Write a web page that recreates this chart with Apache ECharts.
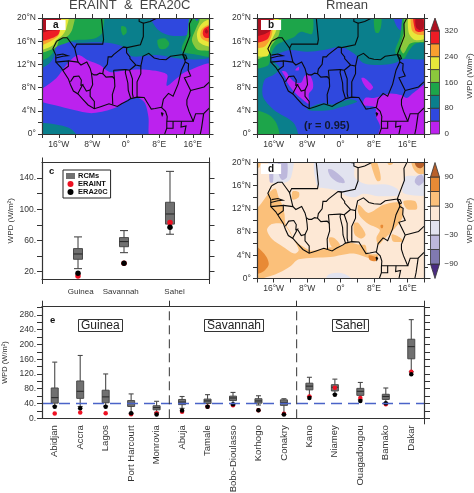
<!DOCTYPE html>
<html><head><meta charset="utf-8">
<style>html,body{margin:0;padding:0;background:#fff}#c{width:474px;height:493px}</style>
<script src="https://cdn.jsdelivr.net/npm/echarts@6/dist/echarts.min.js"></script>
</head><body><div id="c"></div>
<script>
// ---------- tick labels and categories ----------
var lonTicks=[-20,-16,-12,-8,-4,0,4,8,12,16,20];
var lonLabels=[-16,-8,0,8,16];
var latTicks=[0,2,4,6,8,10,12,14,16,18,20];
var latLabels=[0,4,8,12,16,20];
var cCategories=['Guinea','Savannah','Sahel'];
var cLabelAt=[1.06,1.93,3.1];
var cTicks=[20,40,60,80,100,120,140];
var cTickLabels=[20,60,100,140];
var eCategories=['Abidjan','Accra','Lagos','Port Harcourt','Monrovia','Abuja','Tamale','Bobo-Dioulasso','Korhogo','Conakry','Kano','Niamey','Ouagadougou','Bamako','Dakar'];
var eTicks=[0,20,40,60,80,100,120,140,160,180,200,220,240,260,280,300];
var eTickLabels=[0,40,80,120,160,200,240,280];
var eDividers=[4.5,9.5];
var eReference=40;

// ---------- panel c values ----------
var cHigh=[64.6,72.7,148.6];
var cQ3=[49.6,63.7,109];
var cMedian=[42.7,58.6,94];
var cQ1=[35.9,52,81];
var cLow=[23.9,44.4,68];
var cEraint=[14.4,30.7,83];
var cEra20c=[17.9,30.7,77];

// ---------- panel e values ----------
var eHigh=[152,170,120,66,46,59,64,70,61,53,111,106,97,82,267];
var eQ3=[82,101,76,48,34,51,52,60,53,50,95,91,81,65,214];
var eMedian=[56,73,58,40,29,44,47,55,47,42,87,84,73,59,194];
var eQ1=[41,54,42,32,23,37,40,48,41,35,77,74,62,51,161];
var eLow=[33,32,33,14,16,27,33,40,36,10,59,65,50,42,126];
var eEraint=[13,16,14,11,14,18,31,35,22,12,59,83,55,38,126];
var eEra20c=[31,27,31,14,10,21,31,38,22,10,55,64,47,41,119];

// ---------- colour scales ----------
var wpdLevels=[0,40,80,120,160,200,240,280,320,360];
var wpdColors=['#BC22EE','#2F48DE','#0A7F8C','#1DA54A','#8BC83C','#E8E83A','#F9A02F','#EE1C25','#AE1020'];
var diffLevels=[-120,-90,-60,-30,0,30,60,90,120];
var diffColors=['#4B2D82','#8079B0','#BDB8DC','#E2E3EF','#FDE8D5','#FBC07A','#E88A35','#B8602A'];

// ---------- country borders, [lon,lat] ----------
var borders=[
[[-16.5,16],[-17.4,14.7],[-16.7,13.6],[-16.7,12.4],[-15.5,11.5],[-14.7,10.6],[-13.7,9.5],[-13.2,8.5],[-12.5,7.4],[-11.4,6.9],[-10.3,6],[-9,5],[-7.5,4.35],[-6,4.7],[-4,5.2],[-2,4.75],[-1,5.2],[0.5,5.75],[1.2,6.1],[2.7,6.35],[4.4,6.3],[5.5,5],[6.1,4.3],[7,4.4],[8.5,4.6],[9.5,3.9],[9.9,3],[9.8,2],[9.8,1],[9.3,0]],
[[-16.5,16],[-15,16.6],[-14,16.6],[-13,15.6],[-12.2,14.8],[-11.7,15.5],[-9.3,15.5],[-5.5,15.5],[-5.3,16.3],[-5.8,20]],
[[-12.2,14.8],[-11.4,12.4]],
[[-16.7,13.1],[-15,13.4],[-13.8,13.5],[-15,13.8],[-16.5,13.6]],
[[-16.7,12.4],[-13.7,12.6],[-13.7,11.7],[-15,11]],
[[-13.7,12.6],[-11.4,12.4],[-10.7,11.9],[-9.3,12.4],[-8.5,11.3],[-8.2,10.5],[-8,9.4],[-7.9,8.5],[-8.5,7.6]],
[[-13.2,9],[-12.4,9.9],[-11.2,10],[-10.6,9.3],[-10.7,8.4],[-10.3,8.5],[-11.5,6.9]],
[[-10.3,8.5],[-9.4,7.4],[-8.5,7.6],[-8.5,6.5],[-7.5,5.6],[-7.5,4.35]],
[[-8.2,10.5],[-7.6,10.2],[-6.9,10.2],[-6.2,10.5],[-5.5,10.4],[-5.3,11.2],[-4.4,12],[-4.2,13.3],[-3.4,13.3],[-2.9,13.7],[-2,14.2],[-0.6,15],[0.3,14.9],[3.5,15.4],[4.2,16.8],[4.2,19.1],[3.2,19.4],[3.2,19.9],[2.4,20]],
[[4.2,19.1],[5.8,19.4],[7.5,20]],
[[-0.6,15],[0.2,14.9],[0.2,14],[1,13.3],[1,13],[2.4,11.9],[3.6,11.7],[4.1,13.4],[5.5,13.9],[6.8,13.1],[8,12.9],[9.6,12.8],[10.7,13.4],[13.6,13.7],[15.3,16.9],[15.2,19],[15.9,20]],
[[-2.9,11],[-0.2,11.1],[0,11.1],[0.9,11],[1.4,11.3],[2.4,11.9]],
[[-5.5,10.4],[-4.7,9.8],[-3.2,9.9],[-2.7,9.5],[-2.9,11]],
[[-2.7,9.5],[-2.6,8.2],[-3.2,6.8],[-3.1,5.1]],
[[0,11.1],[-0.1,10.6],[0.5,8.8],[0.6,7.5],[1.2,6.1]],
[[0.9,11],[1.6,9.5],[1.6,6.9],[1.8,6.3]],
[[3.6,11.7],[3.6,10.4],[2.7,9],[2.7,6.35]],
[[13.6,13.7],[14.1,13.1],[14.2,12.4],[13.3,11],[12.5,8.6],[11.3,6.5],[10.2,7],[9,6],[8.6,4.6]],
[[14.2,12.4],[15,12.1],[14.9,11],[15.5,10],[14,9.7],[15.5,7.5],[14.6,5.9],[14.6,5],[15.1,3.9],[16.1,2.2],[13.3,2.2],[11.3,2.2],[9.8,2.2]],
[[11.3,2.2],[11.3,1],[9.8,1]],
[[13.3,2.2],[13.2,1.2],[14.4,1.4],[14,0]],
[[16.1,2.2],[16.7,3.5],[18.6,3.5],[18.1,1],[17.8,0]],
[[18.6,3.5],[20,4.5]],
[[15.5,7.5],[18.7,8.1],[20,9]],
[[13.6,13.7],[14.3,13.6],[14.6,13],[14.1,12.8],[13.6,13.7]],
[[8.5,3.7],[8.9,3.5],[8.7,3.2],[8.5,3.7]]
];

// ---------- panel a contour areas, [lon,lat] ----------
var aMagenta=[[-19.8,7.9],[-16.6,9.6],[-14.2,11.9],[-11.4,13.6],[-9,12.7],[-6.2,11.9],[-3.8,10.7],[0.2,11],[4.2,11.1],[9.8,10.3],[9.8,8.3],[12.2,9.6],[14.2,10.7],[21,11.9],[21,-1],[6.2,-1],[5.4,3],[4.6,5.3],[3,6.2],[0.6,6],[-2.2,4.6],[-7.8,3.6],[-12.6,4.2],[-16.6,4.9],[-21,5.9],[-21,7.5]];
var aTealNorth=[[-21,11.3],[-18.2,12.2],[-17,13.6],[-16.6,15],[-15,16.1],[-11.4,15.7],[-6.2,15.8],[-2.6,15.5],[0.2,14.7],[1.4,13.4],[7.4,13.6],[14.2,12.9],[21,13.6],[21,21],[-21,21]];
var aTealSouth=[[-21,1.7],[-15.8,1.5],[-13,0.8],[-11.2,-1],[-21,-1]];
var aBlueNorth=[[5.8,21],[7.4,18.2],[10.6,17],[15,17.3],[15.8,21]];
var aGreenWest=[[-13,21],[-5.6,21],[-5.6,17.5],[-7,16.6],[-9,16.3],[-12,16.2],[-14.8,15.5],[-16.6,15],[-17.4,14],[-18.5,13.2],[-21,12.7],[-21,21]];
var aGreenBlob1=[[-1,18.6],[0,18.4],[0.2,17.5],[-0.6,17],[-1.1,17.8]];
var aGreenBlob2=[[7.6,16.2],[9.3,16.5],[10.4,15.6],[9.5,14.7],[8,14.8]];
var aGreenEast=[[15.8,21],[14.6,17],[13.4,15],[13.6,14.2],[16,13.8],[21,13.6],[21,21]];
var aLightWest=[[-12.4,21],[-12.7,18.2],[-13.8,16.9],[-15.8,16.3],[-16.6,15],[-20,14],[-21,14],[-21,21]];
var aYellowWest=[[-13.8,21],[-14.2,18.2],[-15.2,17],[-16.6,16.2],[-17.4,15.3],[-20,14.5],[-21,14.5],[-21,21]];
var aOrangeWest=[[-15.8,21],[-15.8,17.5],[-16.6,16.6],[-20,15.3],[-21,15.3],[-21,21]];
var aRedWest=[[-16,21],[-16,17.3],[-20,16],[-21,16],[-21,21]];
var aDarkWest=[[-16,21],[-16,18.1],[-18,17.8],[-21,17.6],[-21,21]];
var aLightEast=[[17.5,19.3],[16.6,17.9],[15.8,16.2],[17,14.6],[18.6,14.4],[21,14.6],[21,20.3],[18,20.2]];
var aYellowEast=[[17.8,18.7],[17,17.3],[17.4,15.9],[18.8,15.3],[21,15.1],[21,19.6],[19,19.5]];
var aOrangeEast=[[18.3,18.2],[17.8,17],[18.6,16.2],[21,15.9],[21,19]];
var aRedEast=[[18.8,18.2],[18.4,17.3],[19,16.6],[21,16.8],[21,18.7]];
var aDarkEast=[[19.2,18.1],[18.9,17.6],[19.4,17.3],[19.7,17.7]];
var aBlueCorner=[[16,21],[17,19.5],[17.7,21]];
var aMagentaCorner=[[16.6,20.2],[17,20],[17.3,21],[16.6,21]];

// ---------- panel b contour areas ----------
var bTeal=[[-10.4,-1],[-11.2,1.9],[-16,4.2],[-18.6,6.5],[-18.2,9.3],[-16,10.2],[-14.5,11.3],[-15.5,12.2],[-16.8,13.3],[-14.4,14],[-12,14.5],[-8,14.2],[-4,14.5],[0,15],[3.2,13.9],[5.6,12.2],[9.6,11.9],[12.8,12.2],[15.1,12.9],[21,13.3],[21,21],[-21,21],[-21,-1]];
var bTealCoast=[[-8,4.2],[-6,5],[-4,5.3],[-2,5.1],[0,5.5],[2.4,6],[4,5.6],[2,5],[0,4.6],[-2,4.2],[-5,4]];
var bBlueNorth=[[12.5,21],[13.5,18.5],[14.8,17.8],[15.6,21]];
var bMagentaEast=[[5.9,6.2],[5.5,5],[8.3,4.6],[8.5,3],[9.5,1.3],[9,-1],[21,-1],[21,8.6],[17.5,7.1],[15.9,6.2],[14.7,6.7],[11.9,7],[9.5,6.5],[7.9,6.2]];
var bMagentaWest=[[-14,10.8],[-13,10.7],[-12.2,9.8],[-10.8,8.9],[-9.4,8.9],[-8.6,10],[-7.6,10.3],[-6.7,9.2],[-6.6,7.9],[-7.6,6.9],[-7.5,5.2],[-9,5.9],[-11,7.2],[-12.6,8.7],[-13.2,9.8]];
var bMagentaSpot=[[-10.6,11.3],[-10,11.6],[-10,11],[-10.8,11]];
var bMagentaMid=[[5,9.6],[5.8,9.6],[7.8,8.1],[7,7.5],[5.8,8.3]];
var bGreenWest=[[-14.8,21],[-7.2,21],[-6.8,17.3],[-9.6,17.6],[-11.2,16.7],[-14.8,15.6],[-16.2,14.5],[-16.8,13],[-17.4,11.8],[-21,11.5],[-21,21]];
var bGreenSouth=[[-21,3.9],[-17.2,3.3],[-15.2,1.6],[-14.8,-1],[-21,-1]];
var bGreenMid=[[8.2,21],[9.6,21],[9.8,19],[9.2,17.5],[8.4,17.5],[8,19]];
var bGreenEast=[[15.5,21],[14.3,16.8],[13.1,14.2],[14.3,13.3],[15.2,13],[16.5,14.5],[18,15.6],[21,16],[21,21]];
var bLightEast=[[15.9,21],[15.1,17.3],[14.3,15],[15.1,13.9],[16.7,15.6],[20,15.9],[21,16.2],[21,21]];
var bYellowEast=[[16.7,21],[16.3,17.6],[17.9,16.2],[21,16.8],[21,21]];
var bOrangeEast=[[17.2,21],[17.1,17.9],[18.7,17.1],[21,17.4],[21,21]];
var bRedEast=[[17.6,21],[17.9,17.9],[19.1,17.6],[21,18.2],[21,21]];
var bDarkEast=[[18,20],[18.9,20.2],[19.8,19.6],[19.8,18.2],[19,17.9],[18.1,18.4]];
var bLightWest=[[-21,13],[-17.6,13.6],[-16.8,15],[-14.8,17],[-14.4,19],[-14.2,21],[-21,21]];
var bYellowWest=[[-15,21],[-15.4,17.9],[-16.6,16],[-17,14.2],[-17.6,13.4],[-21,13.8],[-21,21]];
var bOrangeWest=[[-16.2,21],[-16.4,17.3],[-17.2,15.9],[-18.4,15],[-21,15],[-21,21]];
var bRedWest=[[-16.7,21],[-16.8,17.6],[-17.6,16.3],[-21,15.9],[-21,21]];
var bDarkWest=[[-16.4,21],[-16.4,18.2],[-18,17.3],[-21,17],[-21,21]];

// ---------- panel d contour areas ----------
var dOrangeWest=[[-21,0.2],[-16,0.6],[-12,2.1],[-10,3.3],[-2.4,3.7],[3.2,4.3],[8.3,3.2],[9,4.1],[6.5,4.3],[6,5.7],[4.6,5.8],[2,6.2],[0,5.6],[-3,5.3],[-7,4.8],[-9,5.5],[-11,6.5],[-12,8],[-13.2,9.5],[-13.4,11],[-13.8,12.4],[-14.8,14],[-15.6,15.5],[-17.2,14.7],[-19.6,12.4],[-21,12]];
var dCreamTongue=[[-17.6,8.4],[-16.4,9.4],[-13.6,9.3],[-11.2,6.7],[-10,4.9],[-11,4.3],[-13.6,5.4],[-16.4,6.8]];
var dDeepWest=[[-21,5.8],[-20,5.5],[-17.8,3.8],[-17.2,2.4],[-18.5,1.2],[-21,0.8]];
var dOrangeMali=[[-11.5,15],[-10,14.9],[-10,14],[-11.5,13.6]];
var dOrangeTop=[[7.2,20.5],[8,18],[8.8,16.8],[9.6,17],[9.4,18.5],[8.4,20.5]];
var dOrangeCorner=[[17,21],[17.4,19],[18.8,18],[21,18.2],[21,21]];
var dBrownCorner=[[17.7,21],[18,19.5],[19,19],[20,19.5],[20.2,21]];
var dOrangeTop2=[[11,21],[11.5,19.6],[12.5,19.8],[12.8,21]];
var dOrangeTopLeft=[[-21,21],[-19.2,21],[-19.4,19.2],[-21,19.2]];
var dOrangeNigeria=[[4.4,12.7],[6.7,11.3],[10.3,12.7],[14.3,13],[14.9,10.7],[12.7,8.4],[10.3,6.7],[9.1,5.8],[8.6,7],[9.4,8.4],[6.7,9.4],[4.7,10.7],[4.1,11.8]];
var dOrangeBenin=[[3.2,9.5],[4.2,9.6],[6,7.6],[5,6.9],[3.4,7.6]];
var dOrangeChad=[[15.1,13.3],[17.9,13.3],[18.3,12],[15.9,12]];
var dOrangeCameroon=[[12.3,7.6],[14.4,7],[15,6.4],[12.6,6.4]];
var dOrangeGhana=[[-2.8,7],[-1.5,7],[0,5.6],[-2,5.4]];
var dDeepDelta=[[6.8,4],[8.6,3.6],[8.6,3],[7,3.2]];
var dDeepNigeria=[[9.6,9.2],[10.2,9.2],[10.1,8.7],[9.7,8.7]];
var dLavenderNorth=[[-5.8,21],[3.2,21],[3.4,17.5],[6,16.3],[11,16.2],[13.5,15.5],[14.2,14.4],[9,14.2],[5.5,14.6],[3.5,14],[1.2,14.3],[0,15],[-3,15.5],[-5.6,16]];
var dLavenderWest=[[-17,21],[-11.5,21],[-11.8,17.5],[-13,16.6],[-16.5,16.6],[-17,18]];
var dLavenderEast=[[15.5,17.5],[18,17.7],[21,18],[21,14.5],[16,14.5],[14.8,15]];
var dLavenderSouth=[[-3.6,-1],[-3,0.6],[-0.5,1],[2,0.4],[3,-1]];
var dPurpleWest=[[-14.8,21],[-13,21],[-12.8,17.5],[-14,17],[-14.8,18]];
var dPurpleEdge=[[-17,18.5],[-16.2,18.5],[-16.2,16.6],[-16.9,16.6]];
var dPurpleMid=[[-3,18.8],[-2,18.8],[0.6,17.3],[1,16.5],[-0.6,16.6],[-2.4,17.6]];
var dPurpleEast=[[17.8,16.6],[18.2,17.5],[19.5,17.9],[20,16.8],[18.8,16]];

// base colour index and painted areas (colour index, area), lowest first
var aBase=1, bBase=1, dBase=4;
var aLayers=[[0,aMagenta],[2,aTealNorth],[2,aTealSouth],[1,aBlueNorth],[3,aGreenWest],[3,aGreenBlob1],[3,aGreenBlob2],[3,aGreenEast],[4,aLightWest],[5,aYellowWest],[6,aOrangeWest],[7,aRedWest],[8,aDarkWest],[4,aLightEast],[5,aYellowEast],[6,aOrangeEast],[7,aRedEast],[8,aDarkEast],[1,aBlueCorner],[0,aMagentaCorner]];
var bLayers=[[2,bTeal],[2,bTealCoast],[1,bBlueNorth],[0,bMagentaEast],[0,bMagentaWest],[0,bMagentaSpot],[0,bMagentaMid],[3,bGreenWest],[3,bGreenSouth],[3,bGreenMid],[3,bGreenEast],[4,bLightEast],[5,bYellowEast],[6,bOrangeEast],[7,bRedEast],[8,bDarkEast],[4,bLightWest],[5,bYellowWest],[6,bOrangeWest],[7,bRedWest],[8,bDarkWest]];
var dLayers=[[5,dOrangeWest],[4,dCreamTongue],[6,dDeepWest],[5,dOrangeMali],[5,dOrangeTop],[5,dOrangeCorner],[7,dBrownCorner],[5,dOrangeTop2],[5,dOrangeTopLeft],[5,dOrangeNigeria],[5,dOrangeBenin],[5,dOrangeChad],[5,dOrangeCameroon],[5,dOrangeGhana],[6,dDeepDelta],[6,dDeepNigeria],[3,dLavenderNorth],[3,dLavenderWest],[3,dLavenderEast],[3,dLavenderSouth],[2,dPurpleWest],[2,dPurpleEdge],[2,dPurpleMid],[2,dPurpleEast]];

// ---------- layout ----------
var FONT='"Liberation Sans",Arial,sans-serif';
var AX='#333', TXT='#333';
var grids=[
 {left:42,top:18,width:167.5,height:116},
 {left:257,top:18,width:167,height:116},
 {left:42,top:162.5,width:167.5,height:116.5},
 {left:257,top:162.5,width:167,height:116},
 {left:42,top:306.7,width:382,height:111.6},
 {left:430.5,top:18,width:9,height:116},
 {left:430.5,top:162.5,width:9,height:116}
].map(function(g){g.outerBoundsMode='none';return g;});
var xAxes=[],yAxes=[];
function lineStyle(){return {show:true,onZero:false,lineStyle:{color:AX,width:1.2}};}
function tick(vals,len){return {show:true,length:len||4,customValues:vals,lineStyle:{color:AX,width:1}};}

function lonFmt(v){return v===0?'0°':(Math.abs(v)+(v<0?'°W':'°E'));}
function latFmt(v){return v===0?'0°':v+'°N';}

// map panels: axis index equals 2*g (primary) and 2*g+1 (mirror)
[0,1,3].forEach(function(g){
  xAxes[2*g]={type:'value',gridIndex:g,position:'bottom',min:-20,max:20,z:10,splitLine:{show:false},axisLine:lineStyle(),axisTick:tick(lonTicks),axisLabel:{customValues:lonLabels,formatter:lonFmt,margin:6,fontFamily:FONT,fontSize:8.5,color:TXT}};
  xAxes[2*g+1]={type:'value',gridIndex:g,position:'top',min:-20,max:20,z:10,splitLine:{show:false},axisLine:lineStyle(),axisTick:tick(lonTicks),axisLabel:{show:false}};
  yAxes[2*g]={type:'value',gridIndex:g,position:'left',min:0,max:20,z:10,splitLine:{show:false},axisLine:lineStyle(),axisTick:tick(latTicks),axisLabel:{customValues:latLabels,formatter:latFmt,margin:6,fontFamily:FONT,fontSize:8.5,color:TXT}};
  yAxes[2*g+1]={type:'value',gridIndex:g,position:'right',min:0,max:20,z:10,splitLine:{show:false},axisLine:lineStyle(),axisTick:tick(latTicks),axisLabel:{show:false}};
});

// panel c
var cMin=10.6,cMax=160,cxMin=0.217,cxMax=3.859;
xAxes[4]={type:'value',gridIndex:2,position:'bottom',min:cxMin,max:cxMax,z:10,splitLine:{show:false},axisLine:lineStyle(),axisTick:tick([cxMin,cxMax],5),
  axisLabel:{customValues:cLabelAt,formatter:function(v){return cCategories[cLabelAt.indexOf(v)];},margin:9,fontFamily:FONT,fontSize:8,color:TXT}};
xAxes[5]={type:'value',gridIndex:2,position:'top',min:cxMin,max:cxMax,z:10,splitLine:{show:false},axisLine:lineStyle(),axisTick:tick([cxMin,cxMax],5),axisLabel:{show:false}};
yAxes[4]={type:'value',gridIndex:2,position:'left',min:cMin,max:cMax,z:10,splitLine:{show:false},axisLine:lineStyle(),axisTick:tick(cTicks,5),
  axisLabel:{customValues:cTickLabels,formatter:function(v){return v+'.';},margin:6,fontFamily:FONT,fontSize:8.5,color:TXT},
  name:'WPD (W/m²)',nameLocation:'middle',nameGap:27,nameRotate:90,nameTextStyle:{fontFamily:FONT,fontSize:8,color:TXT}};
yAxes[5]={type:'value',gridIndex:2,position:'right',min:cMin,max:cMax,z:10,splitLine:{show:false},axisLine:lineStyle(),axisTick:tick(cTicks,5),axisLabel:{show:false}};

// panel e
var exMin=-0.5,exMax=14.5,eMax=302;
var eIdx=eCategories.map(function(_,i){return i;});
xAxes[8]={type:'value',gridIndex:4,position:'bottom',min:exMin,max:exMax,z:10,splitLine:{show:false},axisLine:lineStyle(),axisTick:tick([exMax],6),
  axisLabel:{customValues:eIdx,formatter:function(v){return eCategories[v];},rotate:90,margin:7,fontFamily:FONT,fontSize:9.5,color:TXT}};
xAxes[9]={type:'value',gridIndex:4,position:'top',min:exMin,max:exMax,z:10,splitLine:{show:false},axisLine:lineStyle(),axisTick:tick([exMin].concat(eDividers,[exMax]),6),axisLabel:{show:false}};
yAxes[8]={type:'value',gridIndex:4,position:'left',min:0,max:eMax,z:10,splitLine:{show:false},axisLine:lineStyle(),axisTick:tick(eTicks,5),
  axisLabel:{customValues:eTickLabels,formatter:function(v){return v+'.';},margin:6,fontFamily:FONT,fontSize:8.5,color:TXT},
  name:'WPD (W/m²)',nameLocation:'middle',nameGap:25,nameRotate:90,nameTextStyle:{fontFamily:FONT,fontSize:7.5,color:TXT}};
yAxes[9]={type:'value',gridIndex:4,position:'right',min:0,max:eMax,z:10,splitLine:{show:false},axisLine:lineStyle(),axisTick:tick(eTicks,6),axisLabel:{show:false}};

// colour bars
function colorBarAxes(g,levels,labels,fmt){
  var lo=levels[0],hi=levels[levels.length-1];
  xAxes[2*g]={type:'value',gridIndex:g,min:0,max:1,show:false};
  xAxes[2*g+1]={type:'value',gridIndex:g,min:0,max:1,show:false,position:'top'};
  yAxes[2*g]={type:'value',gridIndex:g,position:'right',min:lo,max:hi,splitLine:{show:false},axisLine:{show:false},axisTick:{show:false},
    axisLabel:{customValues:labels,formatter:fmt,margin:5,fontFamily:FONT,fontSize:8,color:TXT},
    name:'WPD (W/m²)',nameLocation:'middle',nameGap:26,nameRotate:90,nameTextStyle:{fontFamily:FONT,fontSize:8,color:TXT}};
  yAxes[2*g+1]={type:'value',gridIndex:g,position:'left',min:lo,max:hi,splitLine:{show:false},axisLine:{show:false},axisLabel:{show:false},
    axisTick:tick(levels.slice(0,-1),3)};
}
colorBarAxes(5,wpdLevels,[0,80,160,240,320],function(v){return ''+v;});
colorBarAxes(6,diffLevels,[-90,-30,30,90],function(v){return v<0?'−'+Math.abs(v):''+v;});

// ---------- series ----------
function fieldSeries(g,baseIdx,layers,colors){
  var full=[[-21,-1],[21,-1],[21,21],[-21,21]];
  var items=[[baseIdx,full]].concat(layers);
  return {type:'custom',xAxisIndex:2*g,yAxisIndex:2*g,clip:true,silent:true,z:2,
    data:items.map(function(_,i){return [i];}),
    renderItem:function(p,api){
      var it=items[p.dataIndex];
      return {type:'polygon',shape:{points:it[1].map(function(c){return api.coord(c);}),smooth:it[1]===full?0:0.3},style:{fill:colors[it[0]],stroke:null}};
    }};
}
function borderSeries(g){
  return {type:'custom',xAxisIndex:2*g,yAxisIndex:2*g,clip:true,silent:true,z:3,
    data:borders.map(function(_,i){return [i];}),
    renderItem:function(p,api){
      return {type:'polyline',shape:{points:borders[p.dataIndex].map(function(c){return api.coord(c);})},style:{fill:null,stroke:'#0a0a0a',lineWidth:1.1}};
    }};
}
function boxSeries(g,name,xs,hi,q3,med,q1,lo,boxW,capW){
  return {type:'custom',name:name,xAxisIndex:2*g,yAxisIndex:2*g,silent:true,z:4,itemStyle:{color:'#707070'},
    data:xs.map(function(x,i){return [x,lo[i],q1[i],med[i],q3[i],hi[i]];}),
    renderItem:function(p,api){
      var x=api.value(0),P=function(v){return api.coord([x,v]);};
      var pLo=P(api.value(1)),pQ1=P(api.value(2)),pM=P(api.value(3)),pQ3=P(api.value(4)),pHi=P(api.value(5));
      var s={stroke:'#4a4a4a',lineWidth:1.1,fill:null},cx=pLo[0];
      function seg(a,b,c,d,st){return {type:'line',shape:{x1:a,y1:b,x2:c,y2:d},style:st||s};}
      return {type:'group',children:[
        seg(cx,pHi[1],cx,pLo[1]),
        seg(cx-capW/2,pHi[1],cx+capW/2,pHi[1]),
        seg(cx-capW/2,pLo[1],cx+capW/2,pLo[1]),
        {type:'rect',shape:{x:cx-boxW/2,y:pQ3[1],width:boxW,height:pQ1[1]-pQ3[1]},style:{fill:'#707070',stroke:'#4a4a4a',lineWidth:1}},
        seg(cx-boxW/2,pM[1],cx+boxW/2,pM[1],{stroke:'#2c2c2c',lineWidth:1.1,fill:null})
      ]};
    }};
}
function dotSeries(g,name,xs,ys,color,size,z){
  return {type:'scatter',name:name,xAxisIndex:2*g,yAxisIndex:2*g,symbolSize:size,z:z,silent:true,itemStyle:{color:color,opacity:1},
    data:xs.map(function(x,i){return [x,ys[i]];})};
}
function barSeries(g,levels,colors){
  var n=colors.length,lowTip=levels[0]<0;
  return {type:'custom',xAxisIndex:2*g,yAxisIndex:2*g,silent:true,z:3,
    data:colors.map(function(_,i){return [i];}),
    renderItem:function(p,api){
      var i=p.dataIndex,a=levels[i],b=levels[i+1],pts;
      if(i===n-1) pts=[[0,a],[1,a],[0.5,b]];
      else if(i===0&&lowTip) pts=[[0,b],[1,b],[0.5,a]];
      else pts=[[0,a],[1,a],[1,b],[0,b]];
      return {type:'polygon',shape:{points:pts.map(function(c){return api.coord(c);})},style:{fill:colors[i],stroke:'#333',lineWidth:0.8}};
    }};
}
var cX=[1,2,3];
var series=[
  fieldSeries(0,aBase,aLayers,wpdColors),borderSeries(0),
  fieldSeries(1,bBase,bLayers,wpdColors),borderSeries(1),
  fieldSeries(3,dBase,dLayers,diffColors),borderSeries(3),
  boxSeries(2,'RCMs',cX,cHigh,cQ3,cMedian,cQ1,cLow,9,8),
  dotSeries(2,'ERAINT',cX,cEraint,'#EE1122',5.5,5),
  dotSeries(2,'ERA20C',cX,cEra20c,'#000',5.5,6),
  boxSeries(4,'',eIdx,eHigh,eQ3,eMedian,eQ1,eLow,7,5),
  dotSeries(4,'',eIdx,eEraint,'#EE1122',4.5,5),
  dotSeries(4,'',eIdx,eEra20c,'#000',4.5,6),
  {type:'line',xAxisIndex:8,yAxisIndex:8,silent:true,z:7,symbol:'none',data:[[exMin,eReference],[exMax,eReference]],lineStyle:{color:'#4A63C8',width:1.3,type:[11,6]}},
  {type:'line',xAxisIndex:8,yAxisIndex:8,silent:true,z:7,symbol:'none',data:[[eDividers[0],0],[eDividers[0],eMax]],lineStyle:{color:'#333',width:1,type:[9,5]}},
  {type:'line',xAxisIndex:8,yAxisIndex:8,silent:true,z:7,symbol:'none',data:[[eDividers[1],0],[eDividers[1],eMax]],lineStyle:{color:'#333',width:1,type:[9,5]}},
  barSeries(5,wpdLevels,wpdColors),
  barSeries(6,diffLevels,diffColors)
];

// ---------- titles and tags ----------
function label(text,left,top,size,extra){
  return {text:text,left:left,top:top,padding:0,textStyle:Object.assign({fontFamily:FONT,fontSize:size,fontWeight:'normal',color:'#444'},extra&&extra.ts||{}),
    backgroundColor:extra&&extra.bg||'transparent',borderColor:extra&&extra.bc||'transparent',borderWidth:extra&&extra.bc?1:0,z:20};
}
var titles=[
  label('ERAINT  &  ERA20C',69,-1,13),
  label('Rmean',326,-1,13),
  Object.assign(label('a',46,20,10,{bg:'#fff',ts:{fontWeight:'bold',color:'#111'}}),{padding:[0,7,0,7]}),
  Object.assign(label('b',261,20,10,{bg:'#fff',ts:{fontWeight:'bold',color:'#111'}}),{padding:[0,7,0,7]}),
  Object.assign(label('d',261,164,10,{bg:'#fff',ts:{fontWeight:'bold',color:'#111'}}),{padding:[0,7,0,7]}),
  label('c',49,166,9.5,{ts:{fontWeight:'bold',color:'#111'}}),
  label('e',50,315,9.5,{ts:{fontWeight:'bold',color:'#111'}}),
  label('(r = 0.95)',304,120,11,{ts:{fontWeight:'bold',color:'#101830'}}),
  Object.assign(label('Guinea',78,319,12,{bc:'#333',bg:'#fff',ts:{color:'#222'}}),{padding:[1,3,0,3]}),
  Object.assign(label('Savannah',204,319,12,{bc:'#333',bg:'#fff',ts:{color:'#222'}}),{padding:[1,3,0,3]}),
  Object.assign(label('Sahel',332,319,12,{bc:'#333',bg:'#fff',ts:{color:'#222'}}),{padding:[1,3,0,3]})
];

var chart=echarts.init(document.getElementById('c'),null,{renderer:'canvas'});
chart.setOption({
  animation:false,backgroundColor:'#fff',
  title:titles,grid:grids,xAxis:xAxes,yAxis:yAxes,series:series,
  tooltip:{show:false},
  legend:{show:true,left:63,top:170,orient:'vertical',selectedMode:false,borderColor:'#222',borderWidth:1,backgroundColor:'#fff',padding:[2,3],itemGap:0,itemWidth:9,itemHeight:6,
    textStyle:{fontFamily:FONT,fontSize:7.5,fontWeight:'bold',color:'#111',padding:[0,0,0,-2]},
    data:[{name:'RCMs',icon:'rect'},{name:'ERAINT',icon:'circle'},{name:'ERA20C',icon:'circle'}]}
});
</script></body></html>
